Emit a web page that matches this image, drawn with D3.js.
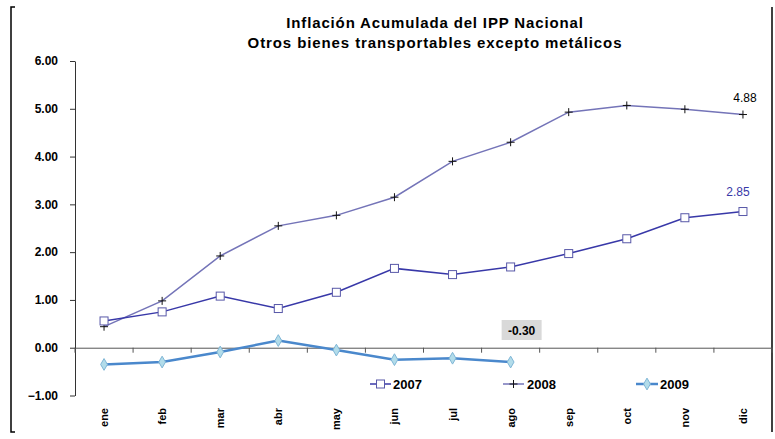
<!DOCTYPE html>
<html>
<head>
<meta charset="utf-8">
<script src="https://d3js.org/d3.v7.min.js"></script>
<style>
  body { margin: 0; background: white; }
  text { font-family: "Liberation Sans", Arial, sans-serif; }
</style>
</head>
<body>
<svg id="chart" width="775" height="439"></svg>
<script>
var months = ["ene","feb","mar","abr","may","jun","jul","ago","sep","oct","nov","dic"];
var yTicks = [-1, 0, 1, 2, 3, 4, 5, 6];
var v2007 = [0.56, 0.75, 1.08, 0.82, 1.16, 1.66, 1.53, 1.69, 1.97, 2.28, 2.72, 2.85];
var v2008 = [0.44, 0.98, 1.92, 2.55, 2.77, 3.15, 3.90, 4.30, 4.93, 5.07, 4.99, 4.88];
var v2009 = [-0.35, -0.30, -0.09, 0.15, -0.05, -0.25, -0.22, -0.30];

var svg = d3.select("#chart");

// outer frame bits
svg.append("path").attr("d", "M15,7 H11 V432 H15").attr("fill", "none").attr("stroke", "#000").attr("stroke-width", 1.5);
svg.append("line").attr("x1", 772).attr("x2", 772).attr("y1", 7).attr("y2", 432).attr("stroke", "#000").attr("stroke-width", 1.5);

// title
svg.append("text").attr("x", 435).attr("y", 28).attr("text-anchor", "middle")
  .style("font-size", "15px").style("font-weight", "bold").style("letter-spacing", "0.85px")
  .text("Inflación Acumulada del IPP Nacional");
svg.append("text").attr("x", 435).attr("y", 48).attr("text-anchor", "middle")
  .style("font-size", "15px").style("font-weight", "bold").style("letter-spacing", "0.9px")
  .text("Otros bienes transportables excepto metálicos");

var x = d3.scaleBand().domain(months).range([75, 772]);
var y = d3.scaleLinear().domain([-1, 6]).range([395.5, 61]);
var cx = function(i) { return x(months[i]) + x.bandwidth() / 2; };

// y axis
var yAxis = svg.append("g").attr("transform", "translate(75,0)")
  .call(d3.axisLeft(y).tickValues(yTicks).tickSize(5).tickSizeOuter(0).tickFormat(d3.format(".2f")));
yAxis.select(".domain").attr("stroke", "#333");
yAxis.selectAll(".tick line").attr("stroke", "#333");
yAxis.selectAll("text").attr("x", -17).style("font-size", "12px").style("font-weight", "bold").attr("fill", "#000");

// x axis at zero
var xAxis = svg.append("g").attr("transform", "translate(0," + y(0) + ")")
  .call(d3.axisBottom(x).tickSize(0).tickSizeOuter(0));
xAxis.select(".domain").attr("stroke", "#555");
xAxis.selectAll(".tick text").remove();
months.forEach(function(m, i) {
  xAxis.append("line").attr("x1", x(m)).attr("x2", x(m)).attr("y1", 0).attr("y2", 5).attr("stroke", "#555");
});
xAxis.append("line").attr("x1", 772).attr("x2", 772).attr("y1", 0).attr("y2", 5).attr("stroke", "#555");

// month labels
svg.selectAll(".mlab").data(months).enter().append("text")
  .attr("class", "mlab")
  .attr("transform", function(d) { return "translate(" + (x(d) + x.bandwidth() / 2 + 4) + ",408) rotate(-90)"; })
  .attr("text-anchor", "end")
  .style("font-size", "11px").style("font-weight", "bold")
  .text(function(d) { return d; });

var line = d3.line().x(function(d, i) { return cx(i); }).y(function(d) { return y(d); });

// 2008
svg.append("path").datum(v2008).attr("d", line).attr("fill", "none").attr("stroke", "#7474b8").attr("stroke-width", 1.5);
svg.selectAll(".p08").data(v2008).enter().append("path").attr("class", "p08")
  .attr("d", function(d, i) { var a = cx(i), b = y(d); return "M" + (a - 4) + "," + b + "H" + (a + 4) + "M" + a + "," + (b - 4) + "V" + (b + 4); })
  .attr("stroke", "#111").attr("stroke-width", 1);

// 2007
svg.append("path").datum(v2007).attr("d", line).attr("fill", "none").attr("stroke", "#3838a8").attr("stroke-width", 1.5);
svg.selectAll(".p07").data(v2007).enter().append("rect").attr("class", "p07")
  .attr("x", function(d, i) { return cx(i) - 4; }).attr("y", function(d) { return y(d) - 4; })
  .attr("width", 8).attr("height", 8).attr("fill", "#fff").attr("stroke", "#5858a8").attr("stroke-width", 1);

// 2009
svg.append("path").datum(v2009).attr("d", line).attr("fill", "none").attr("stroke", "#4a88cc").attr("stroke-width", 2.5);
svg.selectAll(".p09").data(v2009).enter().append("path").attr("class", "p09")
  .attr("d", d3.symbol().type(d3.symbolDiamond).size(40))
  .attr("transform", function(d, i) { return "translate(" + cx(i) + "," + y(d) + ")"; })
  .attr("fill", "#b2dcea").attr("stroke", "#7fb6d6").attr("stroke-width", 1);

// value labels
svg.append("text").attr("x", cx(11) + 2).attr("y", y(v2008[11]) - 13).attr("text-anchor", "middle")
  .style("font-size", "12px").attr("fill", "#000").text(v2008[11].toFixed(2));
svg.append("text").attr("x", cx(11) - 5).attr("y", y(v2007[11]) - 16).attr("text-anchor", "middle")
  .style("font-size", "12px").attr("fill", "#3838a8").text(v2007[11].toFixed(2));
var lx = cx(7) + 11, ly = 331;
svg.append("rect").attr("x", lx - 20).attr("y", ly - 11).attr("width", 40).attr("height", 20).attr("fill", "#d9d9d9");
svg.append("text").attr("x", lx).attr("y", ly + 4).attr("text-anchor", "middle")
  .style("font-size", "12px").style("font-weight", "bold").text(v2009[7].toFixed(2));

// legend
var leg = svg.append("g").attr("transform", "translate(0,384)");
leg.append("line").attr("x1", 370).attr("x2", 391).attr("stroke", "#3838a8").attr("stroke-width", 1.5);
leg.append("rect").attr("x", 376.5).attr("y", -4).attr("width", 8).attr("height", 8).attr("fill", "#fff").attr("stroke", "#5858a8");
leg.append("text").attr("x", 393).attr("y", 5).style("font-size", "13px").style("font-weight", "bold").text("2007");
leg.append("line").attr("x1", 503).attr("x2", 524).attr("stroke", "#7474b8").attr("stroke-width", 1.5);
leg.append("path").attr("d", "M509.5,0H517.5M513.5,-4V4").attr("stroke", "#111");
leg.append("text").attr("x", 527).attr("y", 5).style("font-size", "13px").style("font-weight", "bold").text("2008");
leg.append("line").attr("x1", 636).attr("x2", 658).attr("stroke", "#4a88cc").attr("stroke-width", 2.5);
leg.append("path").attr("d", d3.symbol().type(d3.symbolDiamond).size(40)).attr("transform", "translate(647,0)")
  .attr("fill", "#b2dcea").attr("stroke", "#7fb6d6");
leg.append("text").attr("x", 660).attr("y", 5).style("font-size", "13px").style("font-weight", "bold").text("2009");
</script>
</body>
</html>
